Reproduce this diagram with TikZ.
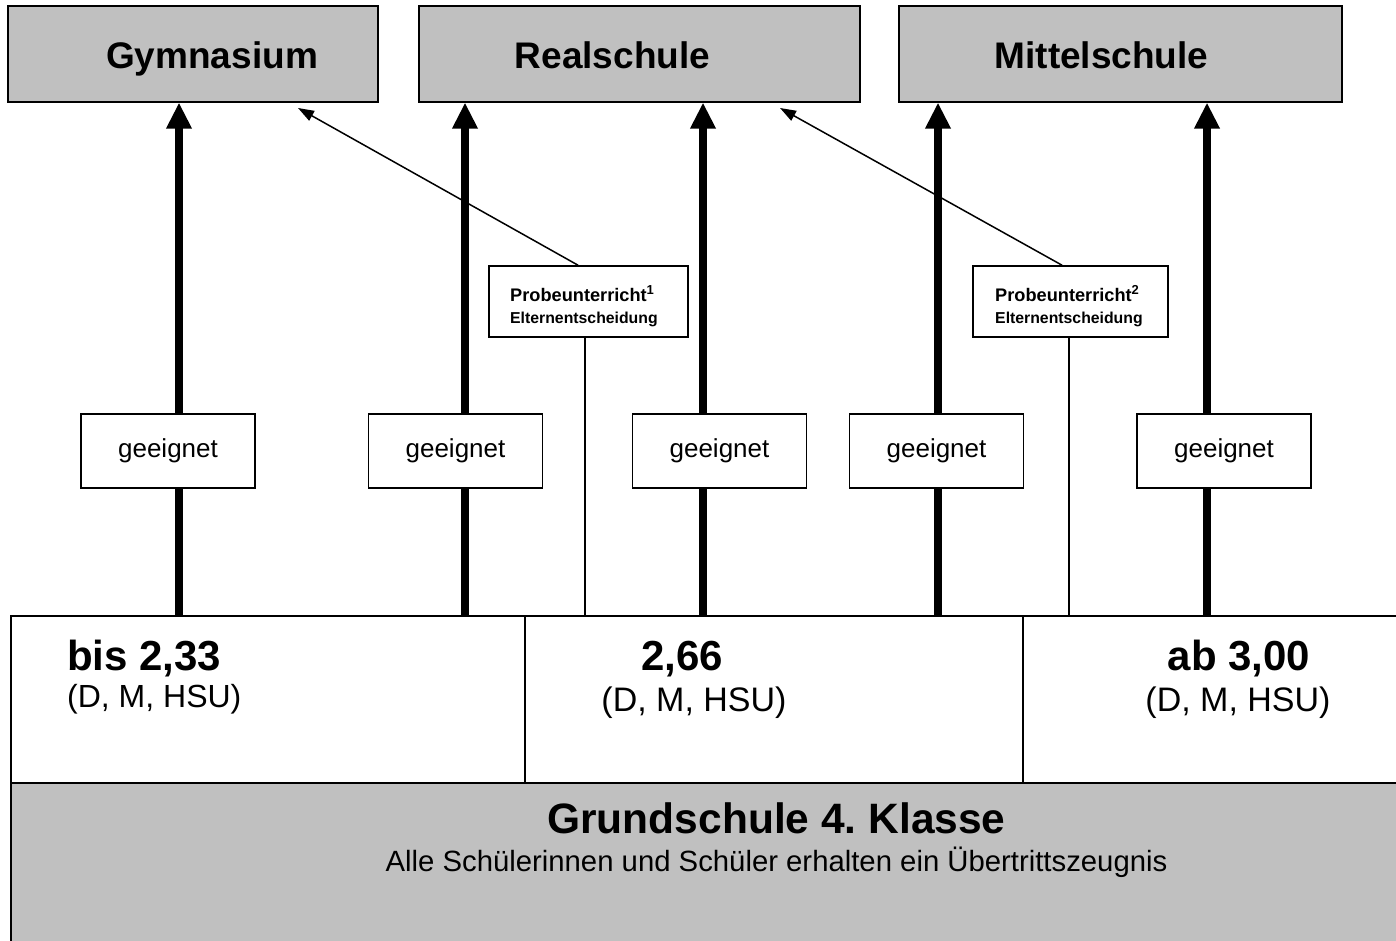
\documentclass[tikz,border=0pt]{standalone}
\usepackage{fontspec}
\setmainfont{Liberation Sans}
\usetikzlibrary{arrows.meta}
\definecolor{boxgray}{HTML}{C0C0C0}
\frenchspacing
\newcommand{\supnum}[1]{\raisebox{7pt}{\fontsize{13}{13}\selectfont #1}}
\begin{document}
\begin{tikzpicture}[x=1pt,y=-1pt,
  schoolbox/.style={draw=black, fill=boxgray, line width=1.6pt, minimum height=96pt, inner sep=0pt, anchor=north west},
  title/.style={font=\fontsize{37}{44}\selectfont\bfseries, inner sep=0pt, anchor=base},
  okbox/.style={draw=black, fill=white, line width=1.6pt, minimum width=174pt, minimum height=74pt, inner sep=0pt, font=\fontsize{26}{30}\selectfont},
  probebox/.style={draw=black, fill=white, line width=1.6pt, minimum height=71pt, inner sep=0pt},
  probetext/.style={inner sep=0pt, align=left, anchor=west, font=\fontsize{18.2}{22}\selectfont\bfseries},
  cell/.style={draw=black, fill=white, line width=1.6pt, minimum height=167pt, inner sep=0pt, anchor=north west},
  bigarrow/.style={line width=8pt, -{Triangle[width=24pt,length=26pt]}},
  bigline/.style={line width=8pt},
  thinline/.style={line width=1.5pt},
  thinarrow/.style={line width=1.5pt, -{Triangle[width=11pt,length=16pt]}},
  grade/.style={font=\fontsize{42}{48}\selectfont\bfseries, inner sep=0pt, anchor=base},
  subj/.style={font=\fontsize{34}{40}\selectfont, inner sep=0pt, anchor=base},
]
\clip (0,0) rectangle (1396,940);
\fill[white] (0,0) rectangle (1396,940);

% top school boxes
\node[schoolbox, minimum width=370pt] (gym) at (7,5) {};
\node[schoolbox, minimum width=441pt] (real) at (418,5) {};
\node[schoolbox, minimum width=443pt] (mittel) at (898,5) {};
\node[title] (gymT) at (212,68) {Gymnasium};
\node[title] (realT) at (612.5,68) {Realschule};
\node[title] (mittelT) at (1101.5,68) {Mittelschule};

% bottom cells
\node[cell, minimum width=514pt] (cell1) at (10,615) {};
\node[cell, minimum width=498pt] (cell2) at (524,615) {};
\node[cell, minimum width=400pt] (cell3) at (1022,615) {};
\node[draw=black, fill=boxgray, line width=1.6pt, minimum width=1400pt, minimum height=180pt, inner sep=0pt, anchor=north west] (grund) at (10,782) {};

\node[grade, anchor=base west] (g1T) at (67,670) {bis 2,33};
\node[subj, anchor=base west, font=\fontsize{32}{38}\selectfont] (s1T) at (67,707) {(D, M, HSU)};
\node[grade] (g2T) at (682,670) {2,66};
\node[subj] (s2T) at (694,711) {(D, M, HSU)};
\node[grade] (g3T) at (1239,670) {ab 3,00};
\node[subj] (s3T) at (1238,711) {(D, M, HSU)};

\node[font=\fontsize{42.5}{48}\selectfont\bfseries, inner sep=0pt] (grT) at (776.5,818) {Grundschule 4. Klasse};
\node[font=\fontsize{29.3}{34}\selectfont, inner sep=0pt] (alleT) at (776.5,862) {Alle Schülerinnen und Schüler erhalten ein Übertrittszeugnis};

% geeignet boxes
\node[okbox] (ok1) at (168,451) {geeignet};
\node[okbox] (ok2) at (455.5,451) {geeignet};
\node[okbox] (ok3) at (719.5,451) {geeignet};
\node[okbox] (ok4) at (936.5,451) {geeignet};
\node[okbox] (ok5) at (1224,451) {geeignet};

% Probeunterricht boxes
\node[probebox, minimum width=199pt] (p1) at (588.5,301.5) {};
\node[probebox, minimum width=195pt] (p2) at (1070.5,301.5) {};
\node[probetext] (p1T) at (510,306) {Probeunterricht\supnum{1}\\{\fontsize{15.8}{22}\selectfont Elternentscheidung}};
\node[probetext] (p2T) at (995,306) {Probeunterricht\supnum{2}\\{\fontsize{15.8}{22}\selectfont Elternentscheidung}};

% base coordinates of the thick arrows
\coordinate (b1) at (179,615);
\coordinate (b2) at (465,615);
\coordinate (b3) at (703,615);
\coordinate (b4) at (938,615);
\coordinate (b5) at (1207,615);

\draw[bigline] (b1) -- (b1 |- ok1.south);
\draw[bigarrow] (b1 |- ok1.north) -- (b1 |- gym.south);
\draw[bigline] (b2) -- (b2 |- ok2.south);
\draw[bigarrow] (b2 |- ok2.north) -- (b2 |- real.south);
\draw[bigline] (b3) -- (b3 |- ok3.south);
\draw[bigarrow] (b3 |- ok3.north) -- (b3 |- real.south);
\draw[bigline] (b4) -- (b4 |- ok4.south);
\draw[bigarrow] (b4 |- ok4.north) -- (b4 |- mittel.south);
\draw[bigline] (b5) -- (b5 |- ok5.south);
\draw[bigarrow] (b5 |- ok5.north) -- (b5 |- mittel.south);

% thin connectors
\coordinate (l1) at (585,615);
\coordinate (l2) at (1069,615);
\draw[thinline] (l1 |- p1.south) -- (l1);
\draw[thinline] (l2 |- p2.south) -- (l2);
\coordinate (t1) at (578,0);
\coordinate (t2) at (1062,0);
\coordinate (e1) at (298,108);
\coordinate (e2) at (780,108);
\draw[thinarrow] (t1 |- p1.north) -- (e1);
\draw[thinarrow] (t2 |- p2.north) -- (e2);
\end{tikzpicture}
\end{document}
